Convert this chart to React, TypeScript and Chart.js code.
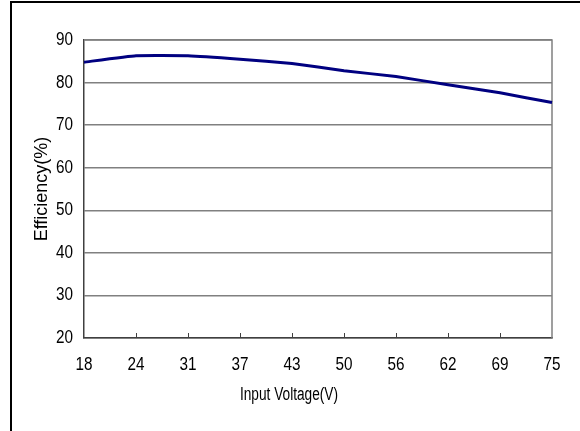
import { useEffect, useRef } from 'react';
import { Chart, registerables } from 'chart.js';

Chart.register(...registerables);

const voltages = ['18', '24', '31', '37', '43', '50', '56', '62', '69', '75'];
const efficiency = [84.8, 86.3, 86.3, 85.5, 84.5, 82.8, 81.4, 79.5, 77.6, 75.3];
const yMin = 20;
const yMax = 90;
const yStep = 10;
const xTitle = 'Input Voltage(V)';
const yTitle = 'Efficiency(%)';

const FAMILY = "'Liberation Sans', Arial, sans-serif";

function drawNarrow(ctx: CanvasRenderingContext2D, text: string, x: number, y: number, sx: number, align: CanvasTextAlign) {
  ctx.save();
  ctx.translate(x, y);
  ctx.scale(sx, 1);
  ctx.textAlign = align;
  ctx.textBaseline = 'middle';
  ctx.fillText(text, 0, 0);
  ctx.restore();
}

const framePlugin = {
  id: 'frame',
  beforeDraw(chart: any) {
    const ctx = chart.ctx;
    ctx.save();
    ctx.fillStyle = '#ffffff';
    ctx.fillRect(0, 0, chart.width, chart.height);
    ctx.strokeStyle = '#000000';
    ctx.lineWidth = 2;
    ctx.beginPath();
    ctx.moveTo(11, chart.height);
    ctx.lineTo(11, 2);
    ctx.lineTo(chart.width, 2);
    ctx.stroke();
    ctx.restore();
  },
  beforeDatasetsDraw(chart: any) {
    const ctx = chart.ctx;
    const a = chart.chartArea;
    ctx.save();
    ctx.strokeStyle = '#808080';
    ctx.lineWidth = 1.5;
    ctx.beginPath();
    ctx.moveTo(a.left, a.top);
    ctx.lineTo(a.right, a.top);
    ctx.lineTo(a.right, a.bottom);
    ctx.stroke();
    const xs = chart.scales.x;
    ctx.strokeStyle = '#404040';
    ctx.lineWidth = 1;
    ctx.beginPath();
    for (let i = 1; i < xs.ticks.length - 1; i++) {
      const px = Math.round(xs.getPixelForTick(i)) + 0.5;
      ctx.moveTo(px, a.bottom);
      ctx.lineTo(px, a.bottom - 5);
    }
    ctx.stroke();
    ctx.restore();
  },
  afterDraw(chart: any) {
    const ctx = chart.ctx;
    const a = chart.chartArea;
    const xs = chart.scales.x;
    const ys = chart.scales.y;
    ctx.save();
    ctx.fillStyle = '#000000';
    ctx.font = `18px ${FAMILY}`;
    xs.ticks.forEach((t: any, i: number) => {
      const label = xs.getLabelForValue(t.value);
      drawNarrow(ctx, String(label), xs.getPixelForTick(i), a.bottom + 27, 0.85, 'center');
    });
    ys.ticks.forEach((t: any, i: number) => {
      drawNarrow(ctx, String(t.value), a.left - 11, ys.getPixelForTick(i), 0.85, 'right');
    });
    drawNarrow(ctx, xTitle, chart.width / 2 - 1, a.bottom + 57, 0.76, 'center');
    ctx.restore();
  },
};

export default function App() {
  const ref = useRef<HTMLCanvasElement>(null);
  useEffect(() => {
    const chart = new Chart(ref.current!, {
      type: 'line',
      data: {
        labels: voltages,
        datasets: [
          {
            data: efficiency,
            borderColor: '#000080',
            borderWidth: 3,
            pointRadius: 0,
            tension: 0.1,
            fill: false,
          },
        ],
      },
      options: {
        responsive: false,
        animation: false,
        devicePixelRatio: 1,
        layout: { padding: { left: 0, top: 40, right: 28, bottom: 0 } },
        plugins: {
          legend: { display: false },
          tooltip: { enabled: false },
          title: { display: false },
        },
        scales: {
          x: {
            type: 'category',
            offset: false,
            grid: { display: false, drawTicks: false },
            border: { display: true, color: '#404040', width: 1.5 },
            ticks: { display: false, autoSkip: false, maxRotation: 0 },
            afterFit: (s: any) => {
              s.height = 93;
            },
          },
          y: {
            min: yMin,
            max: yMax,
            grid: { color: '#808080', lineWidth: 1.5, drawTicks: false },
            border: { display: true, color: '#404040', width: 1.5 },
            ticks: { stepSize: yStep, display: false },
            title: {
              display: true,
              text: yTitle,
              color: '#000',
              font: { family: FAMILY, size: 18 },
              padding: { top: 31, bottom: 0 },
            },
            afterFit: (s: any) => {
              s.width = 84;
            },
          },
        },
      },
      plugins: [framePlugin],
    } as any);
    return () => chart.destroy();
  }, []);
  return (
    <div style={{ position: 'absolute', left: 0, top: 0, width: 580, height: 431 }}>
      <canvas ref={ref} width={580} height={431} style={{ display: 'block' }} />
    </div>
  );
}
